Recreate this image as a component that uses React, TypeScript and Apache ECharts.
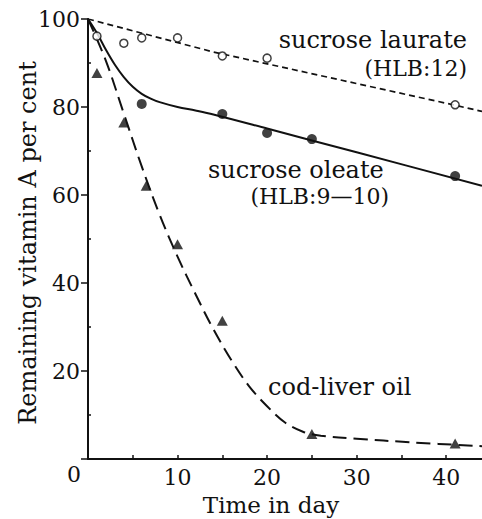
import React, { useEffect, useRef } from "react";
import * as echarts from "echarts";

// Measured points (day, % remaining)
const laurateDays = [1, 4, 6, 10, 15, 20, 41];
const laurateValues = [96.1, 94.5, 95.7, 95.7, 91.6, 91.1, 80.5];
const oleateDays = [6, 15, 20, 25, 41];
const oleateValues = [80.7, 78.4, 74.1, 72.7, 64.3];
const codDays = [1, 4, 6.5, 10, 15, 25, 41];
const codValues = [87.7, 76.5, 62.1, 48.8, 31.4, 5.7, 3.5];

// Fitted curves
const laurateCurveDays = [0, 14, 41, 44];
const laurateCurveValues = [100, 92.5, 80.4, 79];
const oleateCurveDays = [0, 1, 2, 3, 4, 5, 6, 7, 8, 10, 12, 14, 20, 30, 44];
const oleateCurveValues = [100, 96.8, 93.0, 89.6, 86.8, 84.6, 83.0, 81.9, 81.1, 80.0, 79.2, 78.3, 75.1, 69.7, 62.1];
const codCurveDays = [0, 2, 4, 6, 8, 10, 12, 14, 16, 18, 20, 22, 24, 26, 30, 36, 44];
const codCurveValues = [100, 90.5, 78.5, 66.5, 55.5, 46, 37.5, 29.5, 22.5, 16.5, 12, 8.3, 6.2, 5.3, 4.6, 3.8, 2.9];

// Axis ticks / labels
const xTickValues = [5, 10, 15, 20, 25, 30, 35, 40];
const xLabelValues = [10, 20, 30, 40];
const yMinorTickValues = [10, 30, 50, 70, 90];

const FONT = "DejaVu Serif";
const INK = "#111";

const zip = (xs: number[], ys: number[]) => xs.map((x, i) => [x, ys[i]]);

export default function App() {
  const ref = useRef<HTMLDivElement>(null);
  useEffect(() => {
    if (!ref.current) return;
    const chart = echarts.init(ref.current, undefined, { renderer: "svg" });
    chart.setOption({
      animation: false,
      backgroundColor: "#fff",
      grid: { left: 88, right: 0, top: 19, bottom: 60, containLabel: false, outerBoundsMode: "none" },
      xAxis: {
        type: "value",
        min: 0,
        max: 44,
        axisLine: { show: true, lineStyle: { color: INK, width: 2 } },
        axisTick: { show: true, inside: true, length: 4, customValues: xTickValues, lineStyle: { color: INK, width: 1.5 } },
        axisLabel: { customValues: xLabelValues, margin: 7, color: INK, fontFamily: FONT, fontSize: 22 },
        splitLine: { show: false },
      },
      yAxis: [
        {
          type: "value",
          min: 0,
          max: 100,
          interval: 20,
          axisLine: { show: true, lineStyle: { color: INK, width: 2 } },
          axisTick: { show: true, inside: false, length: 7, lineStyle: { color: INK, width: 1.5 } },
          axisLabel: {
            margin: 8,
            color: INK,
            fontFamily: FONT,
            fontSize: 22,
            formatter: (v: number) => (v === 0 ? "" : String(v)),
          },
          splitLine: { show: false },
        },
        {
          type: "value",
          min: 0,
          max: 100,
          position: "left",
          axisLine: { show: false },
          axisTick: { show: true, inside: true, length: 3, customValues: yMinorTickValues, lineStyle: { color: INK, width: 1.5 } },
          axisLabel: { show: false },
          splitLine: { show: false },
        },
      ],
      series: [
        {
          type: "line",
          data: zip(laurateCurveDays, laurateCurveValues),
          showSymbol: false,
          lineStyle: { color: INK, width: 1.7, type: [6, 4] },
          silent: true,
        },
        {
          type: "line",
          data: zip(oleateCurveDays, oleateCurveValues),
          showSymbol: false,
          smooth: 0.35,
          lineStyle: { color: INK, width: 2 },
          silent: true,
        },
        {
          type: "line",
          data: zip(codCurveDays, codCurveValues),
          showSymbol: false,
          smooth: 0.35,
          lineStyle: { color: INK, width: 2, type: [14, 7] },
          silent: true,
        },
        {
          type: "scatter",
          data: zip(laurateDays, laurateValues),
          symbol: "circle",
          symbolSize: 8,
          itemStyle: { color: "#fff", borderColor: INK, borderWidth: 1.5 },
          z: 5,
        },
        {
          type: "scatter",
          data: zip(oleateDays, oleateValues),
          symbol: "circle",
          symbolSize: 10,
          itemStyle: { color: INK },
          z: 5,
        },
        {
          type: "scatter",
          data: zip(codDays, codValues),
          symbol: "triangle",
          symbolSize: [11, 10],
          itemStyle: { color: INK },
          z: 5,
        },
      ],
      graphic: [
        {
          type: "text",
          x: 467,
          y: 40,
          style: { text: "sucrose laurate", font: `24px "${FONT}"`, fill: INK, align: "right", verticalAlign: "middle" },
        },
        {
          type: "text",
          x: 467,
          y: 68,
          style: { text: "(HLB:12)", font: `22px "${FONT}"`, fill: INK, align: "right", verticalAlign: "middle" },
        },
        {
          type: "text",
          x: 208,
          y: 170,
          style: { text: "sucrose oleate", font: `24px "${FONT}"`, fill: INK, align: "left", verticalAlign: "middle" },
        },
        {
          type: "text",
          x: 389,
          y: 196,
          style: { text: "(HLB:9\u201410)", font: `22px "${FONT}"`, fill: INK, align: "right", verticalAlign: "middle" },
        },
        {
          type: "text",
          x: 268,
          y: 387,
          style: { text: "cod-liver oil", font: `24px "${FONT}"`, fill: INK, align: "left", verticalAlign: "middle" },
        },
        {
          type: "text",
          x: 74,
          y: 474,
          style: { text: "0", font: `22px "${FONT}"`, fill: INK, align: "center", verticalAlign: "middle" },
        },
        {
          type: "text",
          x: 271,
          y: 505,
          style: { text: "Time in day", font: `23px "${FONT}"`, fill: INK, align: "center", verticalAlign: "middle" },
        },
        {
          type: "text",
          x: 28,
          y: 243,
          rotation: Math.PI / 2,
          style: { text: "Remaining vitamin A per cent", font: `24px "${FONT}"`, fill: INK, align: "center", verticalAlign: "middle" },
        },
      ],
    });
    return () => chart.dispose();
  }, []);
  return <div ref={ref} style={{ position: "fixed", left: 0, top: 0, width: 482, height: 519 }} />;
}
